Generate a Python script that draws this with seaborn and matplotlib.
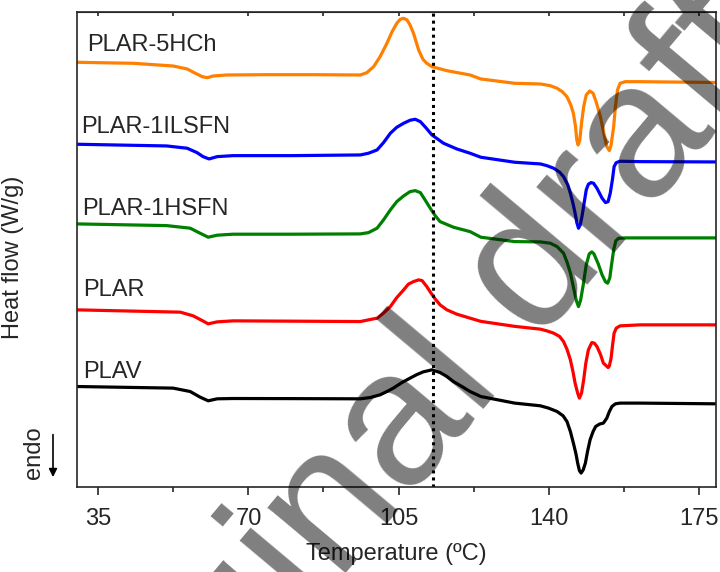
import pandas as pd
import matplotlib.pyplot as plt
import seaborn as sns

# DSC heating curves (temperature in ºC, heat flow in W/g, curves shifted vertically)
temp_5hch = [30.0, 43.1, 52.4, 55.7, 57.6, 59.2, 60.4, 61.8, 65.0, 74.4, 85.0, 96.1, 97.6, 99.2,
             100.7, 102.3, 103.5, 104.6, 105.4, 106.2, 107.0, 107.7, 108.5, 109.7, 110.7, 111.6,
             112.8, 116.3, 121.7, 124.2, 132.1, 138.1, 140.4, 142.0, 143.2, 144.3, 145.2, 145.8,
             146.3, 146.6, 146.9, 147.3, 147.7, 148.2, 148.8, 149.6, 150.4, 151.1, 152.1, 153.0,
             153.6, 154.2, 154.6, 155.2, 155.6, 156.1, 156.7, 157.9, 161.4, 179]
hf_5hch = [4.247, 4.237, 4.21, 4.18, 4.137, 4.103, 4.093, 4.11, 4.12, 4.123, 4.123, 4.12, 4.143, 4.203,
           4.303, 4.437, 4.553, 4.637, 4.677, 4.687, 4.67, 4.62, 4.537, 4.37, 4.277, 4.237,
           4.203, 4.163, 4.12, 4.08, 4.037, 4.03, 4.013, 3.987, 3.953, 3.903, 3.82, 3.737,
           3.603, 3.47, 3.42, 3.47, 3.637, 3.803, 3.92, 3.96, 3.937, 3.853, 3.703, 3.52,
           3.403, 3.363, 3.42, 3.603, 3.803, 3.97, 4.037, 4.053, 4.053, 4.045]

temp_1ilsfn = [30.0, 50.9, 55.7, 58.0, 59.4, 60.8, 62.7, 66.4, 80.0, 96.1, 98.0, 100.0, 101.5,
               103.1, 104.6, 106.2, 107.7, 108.9, 110.1, 111.5, 112.8, 115.5, 118.6, 121.7, 124.2,
               132.1, 138.1, 139.6, 141.2, 142.6, 143.5, 144.5, 145.1, 145.7, 146.2, 146.6, 147.0,
               147.4, 147.8, 148.3, 148.8, 149.3, 149.9, 150.5, 151.3, 152.5, 153.3, 153.9, 154.4,
               154.9, 155.3, 155.8, 156.7, 161.4, 179]
hf_1ilsfn = [3.427, 3.41, 3.387, 3.343, 3.303, 3.28, 3.303, 3.313, 3.313, 3.32, 3.337, 3.37, 3.443,
             3.537, 3.597, 3.637, 3.667, 3.677, 3.653, 3.587, 3.52, 3.437, 3.38, 3.337, 3.297,
             3.247, 3.23, 3.213, 3.187, 3.147, 3.103, 3.02, 2.937, 2.837, 2.737, 2.643, 2.587,
             2.62, 2.703, 2.837, 2.97, 3.027, 3.043, 3.037, 2.987, 2.887, 2.843, 2.853, 2.937,
             3.07, 3.203, 3.243, 3.257, 3.253, 3.25]

temp_1hsfn = [30.0, 50.9, 56.4, 58.7, 60.6, 62.7, 66.4, 80.0, 96.1, 98.0, 100.0, 101.5, 103.1,
              104.6, 106.2, 107.7, 108.9, 110.1, 111.2, 112.4, 113.6, 114.7, 117.8, 121.7, 124.2,
              132.1, 138.1, 140.4, 142.0, 143.5, 144.3, 145.1, 145.8, 146.5, 147.0, 147.5, 148.1,
              148.8, 149.5, 150.1, 150.6, 151.6, 152.5, 153.3, 153.8, 154.3, 154.7, 155.2, 155.7,
              156.3, 157.9, 161.4, 179]
hf_1hsfn = [2.63, 2.613, 2.587, 2.537, 2.497, 2.517, 2.527, 2.527, 2.53, 2.543, 2.587, 2.67, 2.77,
            2.853, 2.91, 2.953, 2.963, 2.943, 2.87, 2.787, 2.71, 2.653, 2.597, 2.553, 2.497,
            2.453, 2.45, 2.437, 2.403, 2.337, 2.25, 2.14, 2.00, 1.86, 1.803, 1.87, 2.02,
            2.22, 2.33, 2.35, 2.33, 2.23, 2.12, 2.05, 2.037, 2.09, 2.22, 2.37, 2.46,
            2.485, 2.49, 2.49, 2.49]

temp_plar = [30.0, 54.1, 57.1, 59.2, 60.6, 62.7, 66.4, 80.0, 96.1, 98.0, 100.0, 101.5, 103.1,
             104.6, 106.2, 107.3, 108.5, 109.7, 110.5, 111.6, 112.6, 113.6, 114.7, 116.3, 118.6,
             121.7, 124.2, 132.1, 138.1, 139.6, 141.2, 142.6, 143.5, 144.3, 145.1, 145.7, 146.2,
             146.8, 147.2, 147.7, 148.2, 148.7, 149.3, 150.1, 150.7, 151.3, 152.1, 152.8, 153.9,
             154.2, 154.6, 154.9, 155.3, 155.8, 156.7, 161.4, 179]
hf_plar = [1.77, 1.747, 1.71, 1.663, 1.63, 1.65, 1.66, 1.657, 1.653, 1.67, 1.687, 1.737, 1.803,
           1.893, 1.97, 2.027, 2.053, 2.07, 2.063, 2.003, 1.937, 1.877, 1.82, 1.77, 1.727,
           1.687, 1.655, 1.605, 1.577, 1.56, 1.537, 1.503, 1.453, 1.377, 1.27, 1.153, 1.037,
           0.937, 0.887, 0.937, 1.07, 1.237, 1.37, 1.443, 1.437, 1.403, 1.327, 1.237, 1.193,
           1.21, 1.287, 1.403, 1.537, 1.587, 1.61, 1.62, 1.62]

temp_plav = [30.0, 52.4, 56.4, 58.7, 60.6, 62.7, 66.4, 80.0, 96.1, 98.4, 100.7, 102.3, 103.8,
             105.8, 107.7, 109.3, 110.8, 112.8, 114.7, 116.3, 117.8, 119.8, 121.7, 124.2, 132.1,
             138.1, 140.0, 142.0, 143.4, 144.3, 145.1, 145.8, 146.4, 146.8, 147.2, 147.6, 148.1,
             148.6, 149.1, 149.7, 150.4, 151.0, 151.9, 152.8, 153.6, 154.2, 154.8, 155.6, 156.7,
             161.4, 179]
hf_plav = [1.003, 0.987, 0.953, 0.897, 0.86, 0.88, 0.883, 0.882, 0.88, 0.893, 0.92, 0.953, 0.987,
           1.043, 1.087, 1.123, 1.15, 1.17, 1.143, 1.103, 1.053, 1.003, 0.953, 0.903, 0.837,
           0.81, 0.787, 0.753, 0.71, 0.653, 0.553, 0.437, 0.33, 0.237, 0.163, 0.137, 0.17,
           0.237, 0.353, 0.47, 0.553, 0.603, 0.627, 0.637, 0.687, 0.753, 0.803, 0.83, 0.837,
           0.837, 0.83]

samples = ["PLAR-5HCh", "PLAR-1ILSFN", "PLAR-1HSFN", "PLAR", "PLAV"]
colors = ["#ff8000", "#0000ff", "#008000", "#ff0000", "#000000"]
label_x = [32.4, 31.0, 31.2, 31.4, 31.4]
label_y = [4.36, 3.54, 2.72, 1.91, 1.09]
tc_line = 113

curves = [(temp_5hch, hf_5hch), (temp_1ilsfn, hf_1ilsfn), (temp_1hsfn, hf_1hsfn),
          (temp_plar, hf_plar), (temp_plav, hf_plav)]
data = pd.concat([pd.DataFrame({"temp": t, "hf": h, "sample": s})
                  for s, (t, h) in zip(samples, curves)], ignore_index=True)

sns.set_style("ticks")
plt.rcParams["font.family"] = ["Liberation Sans", "DejaVu Sans"]

fig, ax = plt.subplots(figsize=(7.2, 5.72), dpi=100)
fig.subplots_adjust(left=0.107, right=0.994, top=0.979, bottom=0.149)

sns.lineplot(data=data, x="temp", y="hf", hue="sample", palette=dict(zip(samples, colors)),
             estimator=None, sort=False, lw=2.3, legend=False, ax=ax,
             solid_joinstyle="round", solid_capstyle="round")
ax.axvline(tc_line, color="black", ls=(0, (1, 1.3)), lw=2.2)

for s, x, y in zip(samples, label_x, label_y):
    ax.text(x, y, s, fontsize=17, va="baseline", ha="left")

ax.set_xlim(30, 179)
ax.set_ylim(0, 4.75)
ax.set_xticks([35, 70, 105, 140, 175])
ax.set_xticks([52.5, 87.5, 122.5, 157.5], minor=True)
ax.set_yticks([])
ax.tick_params(axis="x", which="major", direction="out", length=6, width=1.2, labelsize=17, pad=9)
ax.tick_params(axis="x", which="minor", direction="out", length=3.5, width=1.2)
for sp in ax.spines.values():
    sp.set_linewidth(1.2)

top = ax.secondary_xaxis("top")
top.set_xticks([35, 70, 105, 140, 175])
top.set_xticks([52.5, 87.5, 122.5, 157.5], minor=True)
top.tick_params(which="both", direction="in", length=3, width=1.2, labeltop=False)

ax.set_xlabel("Temperature (ºC)", fontsize=17, labelpad=10)
ax.set_ylabel("Heat flow (W/g)", fontsize=17)
ax.yaxis.set_label_coords(-0.083, 0.484)

fig.text(0.047, 0.208, "endo", rotation=90, fontsize=17, ha="center", va="center")
ax.annotate("", xy=(0.0736, 0.161), xytext=(0.0736, 0.245), xycoords="figure fraction",
            arrowprops=dict(arrowstyle="-|>", color="black", lw=1.2, mutation_scale=12))

# watermark
fig.text(0.617, 0.203, "original draft", rotation=50, fontsize=139,
         color="black", alpha=0.5, ha="center", va="baseline", rotation_mode="anchor")

plt.savefig("out.png", dpi=100)
